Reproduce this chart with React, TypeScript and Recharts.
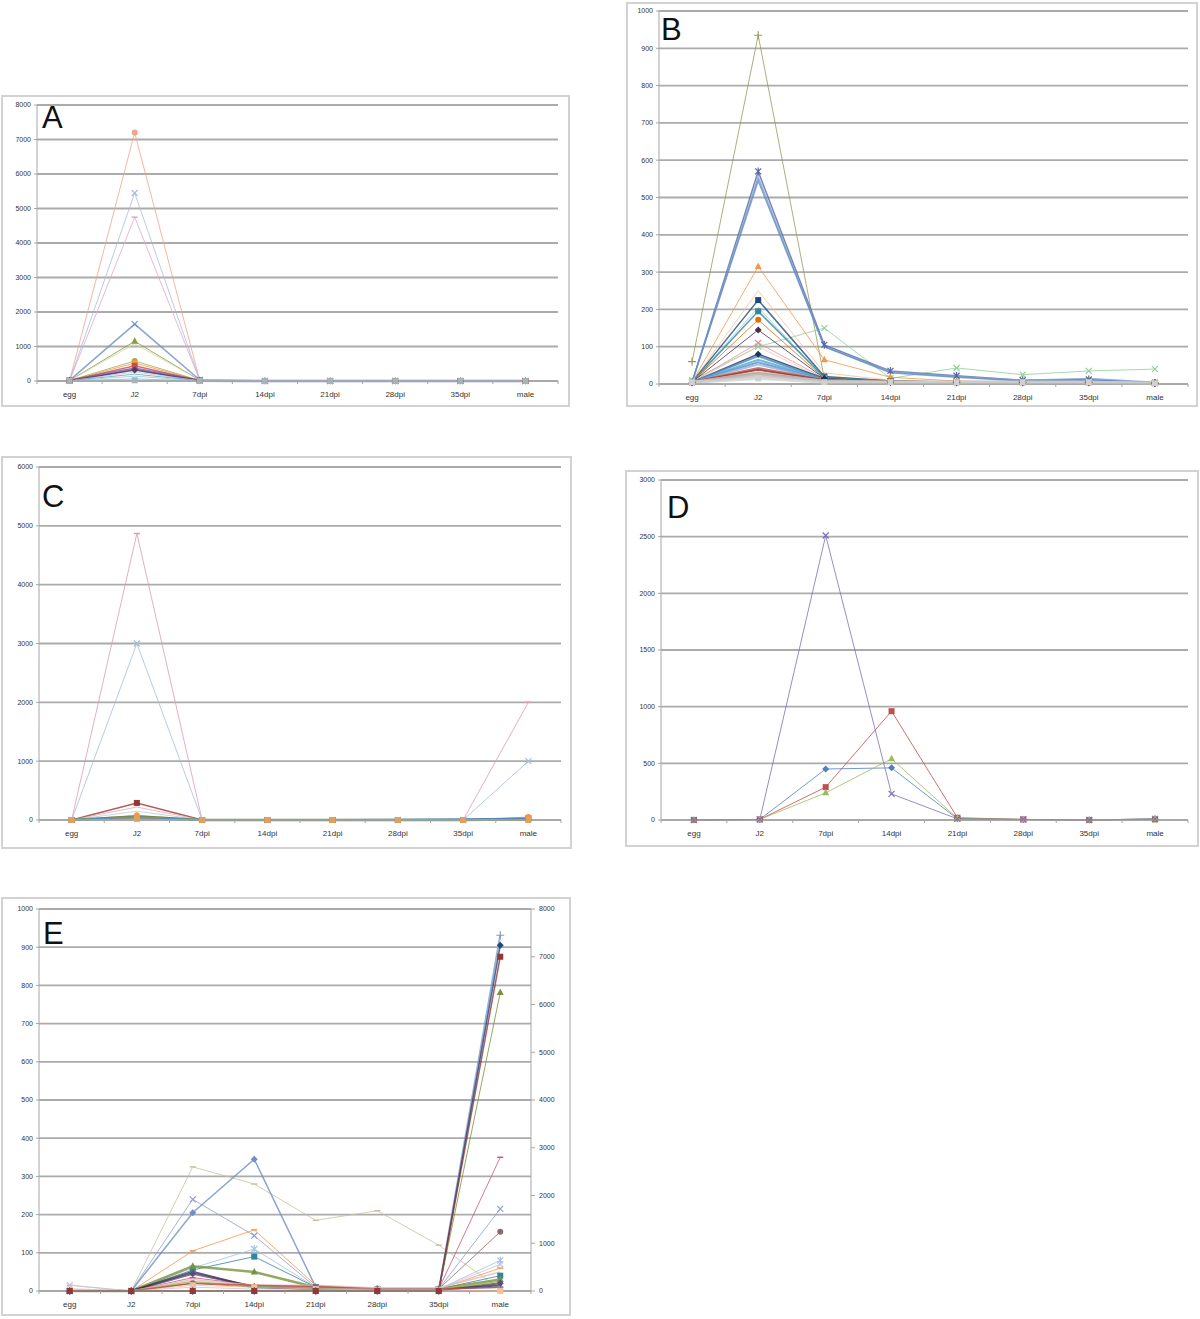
import { LineChart, Line, XAxis, YAxis, CartesianGrid } from 'recharts';

const categories = ['egg', 'J2', '7dpi', '14dpi', '21dpi', '28dpi', '35dpi', 'male'];

// ---- panel A ----
const aTicks = [0, 1000, 2000, 3000, 4000, 5000, 6000, 7000, 8000];
const aValues = [
  [10, 7200, 10, 0, 0, 0, 0, 0],
  [10, 5450, 10, 0, 0, 0, 0, 0],
  [10, 4750, 10, 0, 0, 0, 0, 0],
  [20, 1650, 30, 0, 0, 0, 0, 0],
  [15, 1150, 20, 0, 0, 0, 0, 0],
  [10, 1080, 20, 0, 0, 0, 0, 0],
  [15, 580, 15, 0, 0, 0, 0, 0],
  [10, 520, 10, 0, 0, 0, 0, 0],
  [10, 440, 10, 0, 0, 0, 0, 0],
  [10, 360, 10, 0, 0, 0, 0, 0],
  [10, 320, 10, 0, 0, 0, 0, 0],
  [5, 260, 5, 0, 0, 0, 0, 0],
  [5, 200, 5, 0, 0, 0, 0, 0],
  [5, 140, 5, 0, 0, 0, 0, 0],
  [5, 60, 5, 0, 0, 0, 0, 0],
  [0, 20, 0, 0, 0, 0, 0, 0],
];
const aColors = ['#f4a38c', '#a9bde0', '#dcaacb', '#6f90c6', '#8a9a3c', '#c9d9a0', '#a8a848', '#f79646', '#c0504d', '#7a5ca8', '#4b3a6b', '#e6b9b8', '#4bacc6', '#93cddd', '#8fb0d8', '#a5b5b5'];
const aShapes = ['circle', 'x', 'dash', 'x', 'triangle', 'none', 'circle', 'circle', 'square', 'none', 'diamond', 'none', 'none', 'none', 'none', 'square'];
const aWidths = [1, 1, 1, 1.5, 1, 1, 1, 1, 1.5, 2.5, 1.5, 1, 1, 1, 1, 1];

// ---- panel B ----
const bTicks = [0, 100, 200, 300, 400, 500, 600, 700, 800, 900, 1000];
const bValues = [
  [60, 935, 15, 8, 5, 5, 5, 3],
  [10, 100, 150, 15, 43, 25, 35, 40],
  [5, 570, 105, 35, 22, 10, 12, 3],
  [5, 555, 100, 33, 20, 10, 15, 5],
  [5, 545, 100, 30, 18, 8, 10, 3],
  [5, 315, 65, 18, 8, 5, 5, 2],
  [5, 250, 30, 10, 5, 5, 5, 2],
  [5, 225, 20, 8, 5, 5, 5, 3],
  [5, 205, 15, 5, 5, 5, 5, 3],
  [5, 195, 18, 8, 5, 5, 5, 3],
  [5, 172, 15, 8, 5, 5, 5, 2],
  [5, 145, 15, 5, 5, 5, 5, 2],
  [5, 110, 15, 5, 5, 5, 5, 2],
  [5, 100, 12, 5, 5, 5, 5, 2],
  [5, 80, 15, 5, 5, 5, 5, 2],
  [5, 75, 12, 5, 5, 5, 5, 2],
  [5, 65, 12, 5, 5, 5, 5, 2],
  [5, 58, 10, 5, 5, 5, 5, 2],
  [5, 52, 10, 5, 5, 5, 5, 2],
  [5, 42, 10, 5, 5, 5, 5, 2],
  [5, 38, 10, 5, 5, 5, 5, 2],
  [5, 32, 8, 5, 5, 5, 5, 2],
  [5, 28, 8, 5, 5, 5, 5, 2],
  [5, 22, 8, 5, 5, 5, 5, 2],
  [5, 15, 5, 5, 5, 5, 5, 2],
];
const bColors = ['#9a9a5a', '#8fcf9a', '#5566a8', '#7fa3cf', '#5f8cc0', '#f79646', '#fac090', '#1f497d', '#93cddd', '#31859c', '#e46c0a', '#403151', '#d99694', '#f2c0bf', '#17375e', '#4f81bd', '#4bacc6', '#558ed5', '#95b3d7', '#c0504d', '#953735', '#fac090', '#a5a5a5', '#bfbfbf', '#d0d0d0'];
const bShapes = ['plus', 'x', 'star', 'none', 'none', 'triangle', 'none', 'square', 'none', 'square', 'circle', 'diamond', 'x', 'none', 'diamond', 'none', 'none', 'none', 'none', 'none', 'none', 'none', 'none', 'none', 'square'];
const bWidths = [1, 1, 1.5, 1.5, 1.5, 1, 1, 1.5, 1, 1.5, 1, 1, 1, 1, 1.5, 2, 2, 2, 2, 2.5, 2, 2, 3, 3, 3];

// ---- panel C ----
const cTicks = [0, 1000, 2000, 3000, 4000, 5000, 6000];
const cValues = [
  [0, 4870, 0, 0, 0, 0, 0, 2000],
  [0, 3000, 0, 0, 0, 0, 0, 1000],
  [0, 290, 0, 0, 0, 0, 0, 30],
  [0, 220, 0, 0, 0, 0, 0, 10],
  [0, 150, 0, 0, 0, 0, 0, 10],
  [0, 80, 0, 0, 0, 0, 0, 50],
  [0, 60, 0, 0, 0, 0, 0, 10],
  [0, 40, 0, 0, 0, 0, 5, 20],
  [0, 30, 0, 5, 5, 10, 15, 30],
  [0, 20, 0, 0, 0, 0, 0, 0],
];
const cColors = ['#d99cb5', '#a6bde0', '#953735', '#e6a9a8', '#b9cde5', '#f79646', '#4f7a38', '#4bacc6', '#4f81bd', '#e0a060'];
const cShapes = ['dash', 'x', 'square', 'none', 'none', 'circle', 'none', 'none', 'none', 'square'];
const cWidths = [1, 1, 1.5, 1, 1, 1, 2.5, 2, 1.5, 1];

// ---- panel D ----
const dTicks = [0, 500, 1000, 1500, 2000, 2500, 3000];
const dValues = [
  [0, 5, 450, 460, 10, 5, 0, 10],
  [0, 5, 290, 960, 20, 5, 0, 5],
  [0, 5, 240, 540, 15, 5, 0, 10],
  [0, 5, 2510, 230, 10, 5, 0, 10],
];
const dColors = ['#4f81bd', '#c0504d', '#9bbb59', '#7a70b8'];
const dShapes = ['diamond', 'square', 'triangle', 'x'];
const dWidths = [1, 1, 1, 1];

// ---- panel E ----
const eLeftTicks = [0, 100, 200, 300, 400, 500, 600, 700, 800, 900, 1000];
const eRightTicks = [0, 1000, 2000, 3000, 4000, 5000, 6000, 7000, 8000];
const eLeftValues = [
  [15, 0, 325, 280, 185, 210, 120, 5],
  [0, 0, 240, 145, 10, 5, 5, 215],
  [0, 0, 205, 345, 10, 5, 5, 10],
  [0, 0, 105, 160, 15, 5, 5, 60],
  [0, 0, 60, 110, 10, 5, 5, 80],
  [0, 0, 55, 90, 10, 5, 5, 40],
  [0, 0, 65, 50, 10, 5, 5, 30],
  [0, 0, 35, 15, 10, 5, 5, 350],
  [0, 0, 20, 10, 10, 5, 5, 155],
  [0, 0, 45, 12, 5, 3, 3, 20],
  [0, 0, 50, 10, 5, 3, 3, 15],
  [5, 0, 30, 15, 15, 8, 8, 50],
  [0, 0, 15, 10, 5, 3, 3, 0],
  [0, 0, 25, 12, 8, 5, 5, 25],
  [0, 0, 20, 15, 12, 5, 5, 10],
  [15, 0, 10, 5, 5, 5, 5, 70],
];
const eLeftColors = ['#c9c39f', '#8e9fcf', '#6f8fc8', '#f79646', '#9dc3e6', '#31859c', '#77933c', '#c55a7a', '#8c6b6b', '#604a7b', '#403151', '#e6b9b8', '#fac090', '#9bbb59', '#c0504d', '#ccc1da'];
const eLeftShapes = ['dash', 'x', 'diamond', 'dash', 'star', 'square', 'triangle', 'dash', 'circle', 'diamond', 'none', 'none', 'square', 'none', 'none', 'x'];
const eLeftWidths = [1, 1, 1.5, 1, 1, 1, 2.5, 1, 1, 2, 2, 1.5, 1, 1.5, 1.5, 1];
const eRightValues = [
  [0, 0, 0, 0, 0, 0, 0, 7450],
  [0, 0, 0, 0, 0, 0, 0, 7240],
  [0, 0, 0, 0, 0, 0, 0, 6250],
  [0, 0, 0, 0, 0, 0, 0, 7000],
];
const eRightColors = ['#7f9ccc', '#1f497d', '#77933c', '#953735'];
const eRightShapes = ['plus', 'diamond', 'triangle', 'square'];
const eRightWidths = [2, 1.5, 1, 1.5];

const GRID = '#ababab';
const AXIS = '#a6a6a6';
const TEXT = '#333';

function Marker(props: any) {
  const { cx, cy, shape, color } = props;
  if (cx == null || cy == null || shape === 'none') return null;
  const s = 3;
  if (shape === 'diamond')
    return <polygon points={`${cx},${cy - s - 0.5} ${cx + s + 0.5},${cy} ${cx},${cy + s + 0.5} ${cx - s - 0.5},${cy}`} fill={color} />;
  if (shape === 'square') return <rect x={cx - s} y={cy - s} width={s * 2} height={s * 2} fill={color} />;
  if (shape === 'triangle') return <polygon points={`${cx},${cy - s - 1} ${cx + s + 0.5},${cy + s - 0.5} ${cx - s - 0.5},${cy + s - 0.5}`} fill={color} />;
  if (shape === 'circle') return <circle cx={cx} cy={cy} r={s} fill={color} />;
  if (shape === 'dash') return <line x1={cx - s} y1={cy} x2={cx + s} y2={cy} stroke={color} strokeWidth={1.5} />;
  const x = (
    <path d={`M${cx - s},${cy - s}L${cx + s},${cy + s}M${cx - s},${cy + s}L${cx + s},${cy - s}`} stroke={color} strokeWidth={1.2} />
  );
  if (shape === 'x') return x;
  if (shape === 'plus')
    return <path d={`M${cx - s - 1},${cy}L${cx + s + 1},${cy}M${cx},${cy - s - 1}L${cx},${cy + s + 1}`} stroke={color} strokeWidth={1.2} />;
  // star
  return (
    <g>
      {x}
      <line x1={cx} y1={cy - s - 1} x2={cx} y2={cy + s + 1} stroke={color} strokeWidth={1.2} />
    </g>
  );
}

function buildRows(groups: number[][][]) {
  return categories.map((cat, i) => {
    const row: any = { cat };
    groups.forEach((values, g) => values.forEach((v, j) => (row[`g${g}s${j}`] = v[i])));
    return row;
  });
}

function CatTick(props: any) {
  const { x, y, payload, index, band } = props;
  return (
    <g>
      <line x1={x - band / 2} y1={y} x2={x - band / 2} y2={y + 3} stroke={AXIS} />
      {index === categories.length - 1 && <line x1={x + band / 2} y1={y} x2={x + band / 2} y2={y + 3} stroke={AXIS} />}
      <text x={x} y={y + 16} textAnchor="middle" fontSize={8} fill={TEXT}>
        {payload.value}
      </text>
    </g>
  );
}

type Group = { values: number[][]; colors: string[]; shapes: string[]; widths: number[]; axis: string };

function Panel(props: {
  box: { x: number; y: number; w: number; h: number };
  plot: { x0: number; x1: number; y0: number; y1: number };
  letter: string;
  letterPos: { x: number; y: number };
  leftTicks: number[];
  rightTicks?: number[];
  groups: Group[];
}) {
  const { box, plot, letter, letterPos, leftTicks, rightTicks, groups } = props;
  const B = 2;
  const cw = box.w - 2 * B;
  const ch = box.h - 2 * B;
  const cx = box.x + B;
  const cy = box.y + B;
  const YW = 28;
  const RW = rightTicks ? 30 : 0;
  const XH = 16;
  const margin = {
    top: plot.y0 - cy,
    left: plot.x0 - cx - YW,
    right: cx + cw - plot.x1 - RW,
    bottom: cy + ch - plot.y1 - XH,
  };
  const band = (plot.x1 - plot.x0) / categories.length;
  const rows = buildRows(groups.map((g) => g.values));
  const lastL = leftTicks[leftTicks.length - 1];
  return (
    <div
      style={{
        position: 'absolute',
        left: box.x,
        top: box.y,
        width: box.w - 2 * B,
        height: box.h - 2 * B,
        border: `${B}px solid #d2d2d2`,
        background: '#fff',
      }}
    >
      <LineChart width={cw} height={ch} data={rows} margin={margin}>
        <CartesianGrid yAxisId="left" vertical={false} stroke={GRID} strokeWidth={1.8} />
        <XAxis
          dataKey="cat"
          scale="band"
          height={XH}
          axisLine={{ stroke: AXIS }}
          tickLine={false}
          tickSize={0}
          tickMargin={0}
          interval={0}
          tick={<CatTick band={band} />}
        />
        <YAxis
          yAxisId="left"
          width={YW}
          domain={[0, lastL]}
          ticks={leftTicks}
          interval={0}
          axisLine={{ stroke: AXIS }}
          tickLine={{ stroke: AXIS }}
          tickSize={3}
          tickMargin={3}
          tick={{ fontSize: 7, fill: TEXT }}
        />
        {rightTicks && (
          <YAxis
            yAxisId="right"
            orientation="right"
            width={RW}
            domain={[0, rightTicks[rightTicks.length - 1]]}
            ticks={rightTicks}
            interval={0}
            axisLine={{ stroke: AXIS }}
            tickLine={{ stroke: AXIS }}
            tickSize={4}
            tickMargin={4}
            tick={{ fontSize: 7, fill: TEXT }}
          />
        )}
        {groups.map((g, gi) =>
          g.values.map((_, j) => (
            <Line
              key={`g${gi}s${j}`}
              yAxisId={g.axis}
              dataKey={`g${gi}s${j}`}
              stroke={g.colors[j]}
              strokeWidth={g.widths[j]}
              strokeOpacity={0.8}
              isAnimationActive={false}
              activeDot={false}
              dot={(p: any) => <Marker key={p.key ?? `${gi}-${j}-${p.index}`} cx={p.cx} cy={p.cy} shape={g.shapes[j]} color={g.colors[j]} />}
            />
          ))
        )}
      </LineChart>
      <div
        style={{
          position: 'absolute',
          left: letterPos.x - box.x - B,
          top: letterPos.y - box.y - B,
          fontSize: 31,
          lineHeight: '31px',
          color: '#111',
        }}
      >
        {letter}
      </div>
    </div>
  );
}

export default function App() {
  return (
    <div
      style={{
        position: 'absolute',
        left: 0,
        top: 0,
        width: 1200,
        height: 1319,
        background: '#fff',
        fontFamily: '"Liberation Sans", Arial, sans-serif',
      }}
    >
      <Panel
        box={{ x: 1, y: 95, w: 569, h: 312 }}
        plot={{ x0: 37, x1: 558, y0: 105, y1: 381 }}
        letter="A"
        letterPos={{ x: 42, y: 102 }}
        leftTicks={aTicks}
        groups={[{ values: aValues, colors: aColors, shapes: aShapes, widths: aWidths, axis: 'left' }]}
      />
      <Panel
        box={{ x: 626, y: 2, w: 572, h: 405 }}
        plot={{ x0: 659, x1: 1188, y0: 11, y1: 384 }}
        letter="B"
        letterPos={{ x: 661, y: 14 }}
        leftTicks={bTicks}
        groups={[{ values: bValues, colors: bColors, shapes: bShapes, widths: bWidths, axis: 'left' }]}
      />
      <Panel
        box={{ x: 1, y: 456, w: 571, h: 393 }}
        plot={{ x0: 39, x1: 561, y0: 467, y1: 820 }}
        letter="C"
        letterPos={{ x: 42, y: 481 }}
        leftTicks={cTicks}
        groups={[{ values: cValues, colors: cColors, shapes: cShapes, widths: cWidths, axis: 'left' }]}
      />
      <Panel
        box={{ x: 625, y: 470, w: 574, h: 377 }}
        plot={{ x0: 661, x1: 1188, y0: 480, y1: 820 }}
        letter="D"
        letterPos={{ x: 667, y: 492 }}
        leftTicks={dTicks}
        groups={[{ values: dValues, colors: dColors, shapes: dShapes, widths: dWidths, axis: 'left' }]}
      />
      <Panel
        box={{ x: 1, y: 897, w: 570, h: 419 }}
        plot={{ x0: 39, x1: 531, y0: 909, y1: 1291 }}
        letter="E"
        letterPos={{ x: 43, y: 918 }}
        leftTicks={eLeftTicks}
        rightTicks={eRightTicks}
        groups={[
          { values: eLeftValues, colors: eLeftColors, shapes: eLeftShapes, widths: eLeftWidths, axis: 'left' },
          { values: eRightValues, colors: eRightColors, shapes: eRightShapes, widths: eRightWidths, axis: 'right' },
        ]}
      />
    </div>
  );
}
